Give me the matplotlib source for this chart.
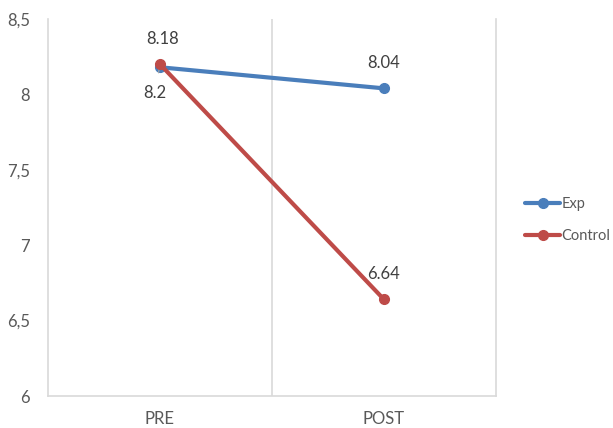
import matplotlib
matplotlib.use("Agg")
import matplotlib.pyplot as plt
from matplotlib import font_manager

categories = ["PRE", "POST"]
exp_values = [8.18, 8.04]
control_values = [8.2, 6.64]
series_names = ["Exp", "Control"]
y_ticks = [6, 6.5, 7, 7.5, 8, 8.5]
y_tick_labels = ["6", "6,5", "7", "7,5", "8", "8,5"]

avail = {f.name for f in font_manager.fontManager.ttflist}
fam = "Lato" if "Lato" in avail else "DejaVu Sans"
plt.rcParams["font.family"] = [fam, "DejaVu Sans"]

txt = "#595959"
grid = "#d9d9d9"
blue = "#4a7ebb"
red = "#be4b48"

fig = plt.figure(figsize=(6.13, 4.28), dpi=100)
ax = fig.add_axes([48/613, 32/428, 448/613, 377/428])

x = list(range(len(categories)))
ax.plot(x, exp_values, color=blue, lw=3, marker="o", ms=7, label=series_names[0],
        solid_capstyle="round", zorder=3)
ax.plot(x, control_values, color=red, lw=3, marker="o", ms=7, label=series_names[1],
        solid_capstyle="round", zorder=4)

ax.set_xlim(-0.5, len(categories) - 0.5)
ax.set_ylim(y_ticks[0], y_ticks[-1])
ax.set_yticks(y_ticks)
ax.set_yticklabels(y_tick_labels)
ax.set_xticks(x)
ax.set_xticklabels(categories)
ax.tick_params(axis="both", length=0, labelsize=12, colors=txt)
ax.tick_params(axis="y", pad=13)
ax.tick_params(axis="x", pad=11)

for k in range(1, len(categories)):
    ax.axvline(k - 0.5, color=grid, lw=1.2, zorder=1)
for s in ["left", "right", "bottom"]:
    ax.spines[s].set_color(grid)
    ax.spines[s].set_linewidth(1.2)
ax.spines["top"].set_visible(False)

fs = 12
ax.annotate(f"{exp_values[0]:g}", (x[0], exp_values[0]), xytext=(3, 28),
            textcoords="offset pixels", ha="center", va="center", fontsize=fs, color="#404040")
ax.annotate(f"{control_values[0]:g}", (x[0], control_values[0]), xytext=(-5, -29),
            textcoords="offset pixels", ha="center", va="center", fontsize=fs, color="#404040",
            arrowprops=dict(arrowstyle="-", color="#a6a6a6", lw=0.8, shrinkA=7, shrinkB=2))
ax.annotate(f"{exp_values[1]:g}", (x[1], exp_values[1]), xytext=(0, 25),
            textcoords="offset pixels", ha="center", va="center", fontsize=fs, color="#404040")
ax.annotate(f"{control_values[1]:g}", (x[1], control_values[1]), xytext=(0, 25),
            textcoords="offset pixels", ha="center", va="center", fontsize=fs, color="#404040")

leg = fig.legend(loc="center left", bbox_to_anchor=(525/613, 1 - 220/428), frameon=False,
                 fontsize=10.5, handlelength=2.4, handletextpad=0.1, labelspacing=1.2,
                 borderaxespad=0, borderpad=0)
for t in leg.get_texts():
    t.set_color(txt)

fig.savefig("out.png", dpi=100)
